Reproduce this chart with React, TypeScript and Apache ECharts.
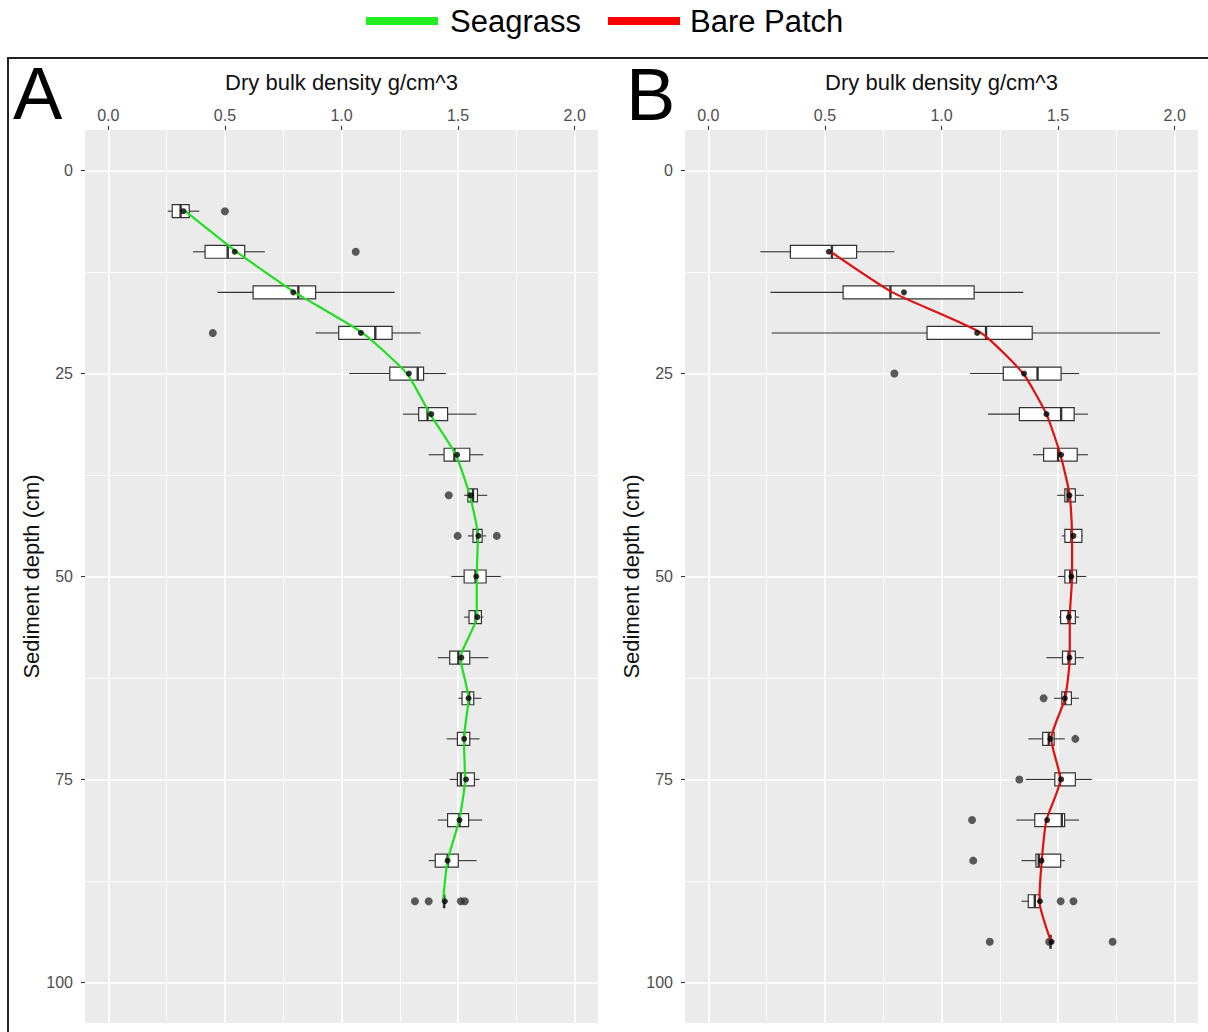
import React, { useEffect, useRef } from "react";
import * as echarts from "echarts";

const FONT = "Liberation Sans, Arial, sans-serif";

// ---- axis ticks ----
const xTicks = [0, 0.5, 1, 1.5, 2];
const xMinorTicks = [0.25, 0.75, 1.25, 1.75];
const yTicks = [0, 25, 50, 75, 100];
const yMinorTicks = [12.5, 37.5, 62.5, 87.5];

// ---- Panel A: Seagrass ----
const seagrassDepth = [5, 10, 15, 20, 25, 30, 35, 40, 45, 50, 55, 60, 65, 70, 75, 80, 85, 90];
const seagrassLow = [0.255, 0.364, 0.468, 0.889, 1.033, 1.264, 1.374, 1.526, 1.542, 1.471, 1.526, 1.413, 1.501, 1.451, 1.464, 1.413, 1.374, 1.438];
const seagrassQ1 = [0.274, 0.415, 0.621, 0.988, 1.207, 1.331, 1.44, 1.542, 1.564, 1.526, 1.547, 1.464, 1.517, 1.497, 1.497, 1.455, 1.402, 1.438];
const seagrassMedian = [0.31, 0.512, 0.815, 1.145, 1.327, 1.369, 1.484, 1.564, 1.583, 1.575, 1.575, 1.501, 1.547, 1.526, 1.512, 1.506, 1.455, 1.44];
const seagrassQ3 = [0.347, 0.585, 0.889, 1.217, 1.352, 1.455, 1.55, 1.583, 1.603, 1.62, 1.6, 1.55, 1.567, 1.55, 1.57, 1.545, 1.501, 1.442];
const seagrassHigh = [0.39, 0.671, 1.228, 1.339, 1.448, 1.579, 1.608, 1.625, 1.62, 1.683, 1.608, 1.63, 1.6, 1.592, 1.592, 1.603, 1.579, 1.442];
const seagrassMean = [0.322, 0.542, 0.793, 1.083, 1.289, 1.385, 1.496, 1.554, 1.587, 1.578, 1.583, 1.514, 1.545, 1.526, 1.534, 1.506, 1.455, 1.443];
const seagrassFit = [0.33, 0.55, 0.8, 1.09, 1.28, 1.38, 1.49, 1.55, 1.585, 1.58, 1.58, 1.51, 1.545, 1.525, 1.53, 1.505, 1.455, 1.435];
const seagrassOutliers: [number, number][] = [
  [5, 0.5], [10, 1.061], [20, 0.448], [40, 1.46], [45, 1.498], [45, 1.666],
  [90, 1.315], [90, 1.374], [90, 1.512], [90, 1.529],
];

// ---- Panel B: Bare Patch ----
const bareDepth = [10, 15, 20, 25, 30, 35, 40, 45, 50, 55, 60, 65, 70, 75, 80, 85, 90, 95];
const bareLow = [0.223, 0.266, 0.272, 1.123, 1.199, 1.392, 1.496, 1.516, 1.5, 1.504, 1.45, 1.483, 1.372, 1.362, 1.321, 1.343, 1.343, 1.467];
const bareQ1 = [0.352, 0.578, 0.938, 1.265, 1.334, 1.438, 1.529, 1.529, 1.529, 1.511, 1.519, 1.516, 1.434, 1.486, 1.4, 1.405, 1.372, 1.467];
const bareMedian = [0.53, 0.781, 1.191, 1.412, 1.513, 1.5, 1.541, 1.557, 1.552, 1.545, 1.545, 1.53, 1.46, 1.508, 1.516, 1.417, 1.4, 1.467];
const bareQ3 = [0.636, 1.14, 1.389, 1.513, 1.569, 1.582, 1.574, 1.602, 1.579, 1.574, 1.574, 1.557, 1.483, 1.574, 1.528, 1.511, 1.422, 1.469];
const bareHigh = [0.798, 1.351, 1.937, 1.59, 1.628, 1.628, 1.61, 1.607, 1.62, 1.59, 1.61, 1.59, 1.529, 1.645, 1.59, 1.529, 1.422, 1.469];
const bareMean = [0.517, 0.839, 1.153, 1.354, 1.45, 1.513, 1.549, 1.566, 1.557, 1.546, 1.549, 1.529, 1.467, 1.513, 1.453, 1.429, 1.422, 1.472];
const bareFit = [0.525, 0.79, 1.17, 1.35, 1.45, 1.51, 1.55, 1.56, 1.56, 1.55, 1.55, 1.53, 1.47, 1.51, 1.45, 1.43, 1.42, 1.47];
const bareOutliers: [number, number][] = [
  [25, 0.798], [65, 1.438], [70, 1.574], [75, 1.334], [80, 1.131], [85, 1.136],
  [90, 1.511], [90, 1.566], [95, 1.207], [95, 1.462], [95, 1.734],
];

const SEAGRASS_COLOR = "#1fe01f";
const BARE_COLOR = "#e01010";

const renderBox = (_params: any, api: any) => {
  const d = api.value(0);
  const lo = api.coord([api.value(1), d]);
  const q1 = api.coord([api.value(2), d]);
  const md = api.coord([api.value(3), d]);
  const q3 = api.coord([api.value(4), d]);
  const hi = api.coord([api.value(5), d]);
  const h = api.size([0, 1.6])[1];
  const y = md[1];
  const stroke = "#333333";
  return {
    type: "group",
    children: [
      { type: "line", shape: { x1: lo[0], y1: y, x2: q1[0], y2: y }, style: { stroke, lineWidth: 1.1 } },
      { type: "line", shape: { x1: q3[0], y1: y, x2: hi[0], y2: y }, style: { stroke, lineWidth: 1.1 } },
      {
        type: "rect",
        shape: { x: q1[0], y: y - h / 2, width: Math.max(q3[0] - q1[0], 0.5), height: h },
        style: { fill: "#ffffff", stroke, lineWidth: 1.2 },
      },
      { type: "line", shape: { x1: md[0], y1: y - h / 2, x2: md[0], y2: y + h / 2 }, style: { stroke, lineWidth: 2.4 } },
    ],
  };
};

const majorX = (gridIndex: number) => ({
  type: "value",
  gridIndex,
  position: "top",
  min: -0.1,
  max: 2.1,
  name: "Dry bulk density g/cm^3",
  nameLocation: "middle",
  nameGap: 37,
  nameTextStyle: { fontSize: 22, color: "#111", fontFamily: FONT },
  axisLine: { show: false, onZero: false },
  axisTick: { show: true, length: 4, customValues: xTicks, lineStyle: { color: "#333", width: 1.1 } },
  axisLabel: {
    customValues: xTicks,
    formatter: (v: number) => v.toFixed(1),
    color: "#4d4d4d",
    fontSize: 16,
    margin: 7,
    fontFamily: FONT,
  },
  splitLine: { show: true, lineStyle: { color: "#ffffff", width: 1.6 } },
});

const minorX = (gridIndex: number) => ({
  type: "value",
  gridIndex,
  position: "bottom",
  min: -0.1,
  max: 2.1,
  axisLine: { show: false, onZero: false },
  axisTick: { show: false, customValues: xMinorTicks },
  axisLabel: { show: false, customValues: xMinorTicks },
  splitLine: { show: true, lineStyle: { color: "#ffffff", width: 0.8 } },
});

const majorY = (gridIndex: number) => ({
  type: "value",
  gridIndex,
  position: "left",
  inverse: true,
  min: -5,
  max: 105,
  name: "Sediment depth (cm)",
  nameLocation: "middle",
  nameGap: 40,
  nameRotate: 90,
  nameTextStyle: { fontSize: 22, color: "#111", fontFamily: FONT },
  axisLine: { show: false, onZero: false },
  axisTick: { show: true, length: 4, customValues: yTicks, lineStyle: { color: "#333", width: 1.1 } },
  axisLabel: { customValues: yTicks, color: "#4d4d4d", fontSize: 16, margin: 12, fontFamily: FONT },
  splitLine: { show: true, lineStyle: { color: "#ffffff", width: 1.6 } },
});

const minorY = (gridIndex: number) => ({
  type: "value",
  gridIndex,
  position: "right",
  inverse: true,
  min: -5,
  max: 105,
  axisLine: { show: false, onZero: false },
  axisTick: { show: false, customValues: yMinorTicks },
  axisLabel: { show: false, customValues: yMinorTicks },
  splitLine: { show: true, lineStyle: { color: "#ffffff", width: 0.8 } },
});

const panelSeries = (
  axisX: number,
  axisY: number,
  name: string,
  color: string,
  depth: number[],
  low: number[],
  q1: number[],
  med: number[],
  q3: number[],
  high: number[],
  mean: number[],
  fit: number[],
  outliers: [number, number][]
) => [
  {
    type: "custom",
    name: name + " box",
    xAxisIndex: axisX,
    yAxisIndex: axisY,
    renderItem: renderBox,
    encode: { x: [1, 2, 3, 4, 5], y: 0 },
    data: depth.map((d, i) => [d, low[i], q1[i], med[i], q3[i], high[i]]),
    z: 2,
  },
  {
    type: "scatter",
    name: name + " outliers",
    xAxisIndex: axisX,
    yAxisIndex: axisY,
    symbolSize: 8,
    itemStyle: { color: "#333333" },
    data: outliers.map(([d, v]) => [v, d]),
    z: 3,
  },
  {
    type: "line",
    name,
    xAxisIndex: axisX,
    yAxisIndex: axisY,
    smooth: 0.18,
    showSymbol: false,
    color,
    lineStyle: { color, width: 2.2 },
    data: depth.map((d, i) => [fit[i], d]),
    z: 4,
  },
  {
    type: "scatter",
    name: name + " mean",
    xAxisIndex: axisX,
    yAxisIndex: axisY,
    symbolSize: 6,
    itemStyle: { color: "#000000" },
    data: depth.map((d, i) => [mean[i], d]),
    z: 5,
  },
];

export default function App() {
  const ref = useRef<HTMLDivElement>(null);

  useEffect(() => {
    document.body.style.margin = "0";
    if (!ref.current) return;
    const chart = echarts.init(ref.current, undefined, { renderer: "svg" });
    const option: any = {
      animation: false,
      backgroundColor: "#ffffff",
      textStyle: { fontFamily: FONT },
      grid: [
        { left: 85, top: 130, width: 513, height: 893, show: true, backgroundColor: "#ebebeb", borderWidth: 0 },
        { left: 685, top: 130, width: 513, height: 893, show: true, backgroundColor: "#ebebeb", borderWidth: 0 },
      ],
      xAxis: [majorX(0), minorX(0), majorX(1), minorX(1)],
      yAxis: [majorY(0), minorY(0), majorY(1), minorY(1)],
      series: [
        ...panelSeries(0, 0, "Seagrass", SEAGRASS_COLOR, seagrassDepth, seagrassLow, seagrassQ1, seagrassMedian, seagrassQ3, seagrassHigh, seagrassMean, seagrassFit, seagrassOutliers),
        ...panelSeries(2, 2, "Bare Patch", BARE_COLOR, bareDepth, bareLow, bareQ1, bareMedian, bareQ3, bareHigh, bareMean, bareFit, bareOutliers),
      ],
      graphic: [
        { type: "polyline", shape: { points: [[8, 1032], [8, 58], [1208, 58]] }, style: { stroke: "#222", lineWidth: 2, fill: null }, z: 10 },
        { type: "text", x: 13, y: 93, style: { text: "A", fontSize: 74, fontFamily: FONT, fill: "#000", verticalAlign: "middle", align: "left" }, z: 10 },
        { type: "text", x: 626, y: 94, style: { text: "B", fontSize: 74, fontFamily: FONT, fill: "#000", verticalAlign: "middle", align: "left" }, z: 10 },
        { type: "rect", shape: { x: 366, y: 17, width: 72, height: 8 }, style: { fill: "#22ee22" }, z: 10 },
        { type: "text", x: 450, y: 21, style: { text: "Seagrass", fontSize: 31, fontFamily: FONT, fill: "#000", verticalAlign: "middle", align: "left" }, z: 10 },
        { type: "rect", shape: { x: 608, y: 17, width: 72, height: 8 }, style: { fill: "#ff0000" }, z: 10 },
        { type: "text", x: 690, y: 21, style: { text: "Bare Patch", fontSize: 31, fontFamily: FONT, fill: "#000", verticalAlign: "middle", align: "left" }, z: 10 },
      ],
    };
    chart.setOption(option);
    return () => chart.dispose();
  }, []);

  return <div ref={ref} style={{ width: 1208, height: 1032 }} />;
}
